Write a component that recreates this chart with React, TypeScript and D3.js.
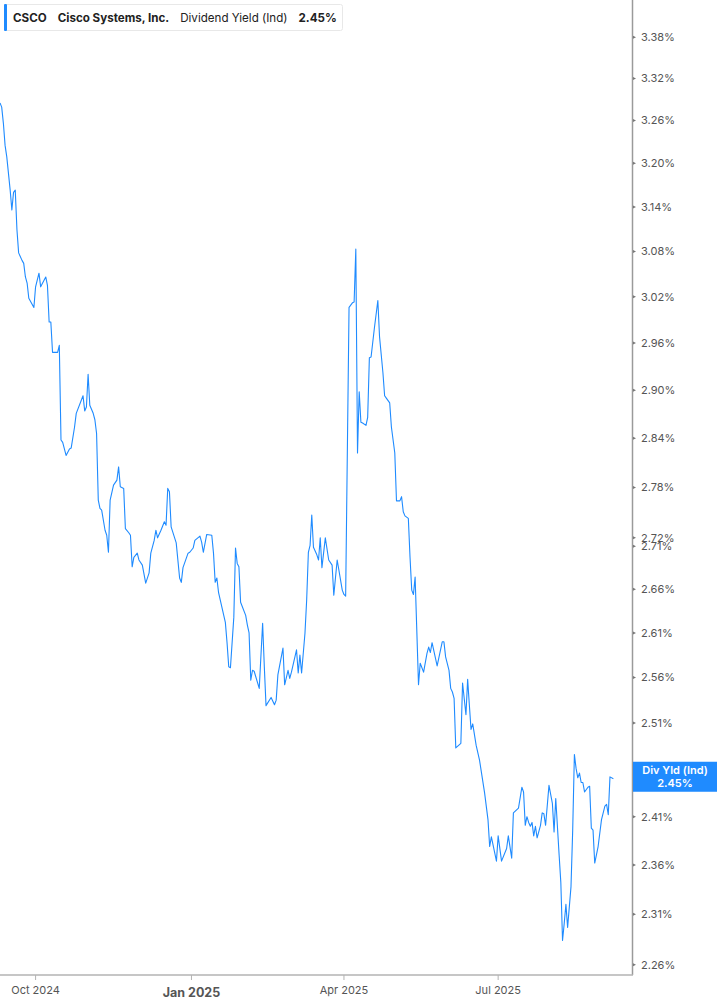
import React, { useEffect, useRef } from 'react';
import * as d3 from 'd3';

// Dividend yield (%)
const dates = [
  '2024-09-10', '2024-09-11', '2024-09-12', '2024-09-13', '2024-09-14', '2024-09-16', '2024-09-17', '2024-09-18',
  '2024-09-19', '2024-09-20', '2024-09-21', '2024-09-23', '2024-09-24', '2024-09-25', '2024-09-26', '2024-09-27',
  '2024-09-30', '2024-10-01', '2024-10-03', '2024-10-04', '2024-10-07', '2024-10-08', '2024-10-09', '2024-10-10',
  '2024-10-11', '2024-10-14', '2024-10-15', '2024-10-16', '2024-10-17', '2024-10-19', '2024-10-21', '2024-10-22',
  '2024-10-24', '2024-10-25', '2024-10-29', '2024-10-30', '2024-10-31', '2024-11-01', '2024-11-02', '2024-11-04',
  '2024-11-05', '2024-11-06', '2024-11-07', '2024-11-08', '2024-11-09', '2024-11-11', '2024-11-12', '2024-11-13',
  '2024-11-14', '2024-11-16', '2024-11-18', '2024-11-19', '2024-11-20', '2024-11-22', '2024-11-23', '2024-11-25',
  '2024-11-26', '2024-11-27', '2024-11-28', '2024-11-30', '2024-12-01', '2024-12-03', '2024-12-05', '2024-12-07',
  '2024-12-08', '2024-12-10', '2024-12-11', '2024-12-12', '2024-12-14', '2024-12-16', '2024-12-17', '2024-12-18',
  '2024-12-19', '2024-12-20', '2024-12-23', '2024-12-25', '2024-12-26', '2024-12-27', '2024-12-30', '2024-12-31',
  '2025-01-02', '2025-01-03', '2025-01-06', '2025-01-07', '2025-01-08', '2025-01-10', '2025-01-13', '2025-01-14',
  '2025-01-15', '2025-01-16', '2025-01-17', '2025-01-21', '2025-01-22', '2025-01-23', '2025-01-24', '2025-01-26',
  '2025-01-27', '2025-01-28', '2025-01-29', '2025-01-30', '2025-02-02', '2025-02-03', '2025-02-04', '2025-02-05',
  '2025-02-06', '2025-02-07', '2025-02-10', '2025-02-12', '2025-02-13', '2025-02-14', '2025-02-17', '2025-02-19',
  '2025-02-20', '2025-02-21', '2025-02-24', '2025-02-25', '2025-02-27', '2025-02-28', '2025-03-01', '2025-03-04',
  '2025-03-05', '2025-03-06', '2025-03-07', '2025-03-09', '2025-03-10', '2025-03-11', '2025-03-12', '2025-03-13',
  '2025-03-14', '2025-03-16', '2025-03-17', '2025-03-18', '2025-03-19', '2025-03-21', '2025-03-23', '2025-03-25',
  '2025-03-26', '2025-03-28', '2025-03-31', '2025-04-01', '2025-04-02', '2025-04-04', '2025-04-06', '2025-04-07',
  '2025-04-08', '2025-04-09', '2025-04-10', '2025-04-11', '2025-04-12', '2025-04-14', '2025-04-15', '2025-04-16',
  '2025-04-17', '2025-04-19', '2025-04-21', '2025-04-22', '2025-04-24', '2025-04-25', '2025-04-26', '2025-04-28',
  '2025-04-29', '2025-05-01', '2025-05-02', '2025-05-04', '2025-05-05', '2025-05-06', '2025-05-07', '2025-05-09',
  '2025-05-10', '2025-05-11', '2025-05-12', '2025-05-13', '2025-05-15', '2025-05-16', '2025-05-18', '2025-05-20',
  '2025-05-21', '2025-05-22', '2025-05-23', '2025-05-26', '2025-05-29', '2025-05-30', '2025-05-31', '2025-06-02',
  '2025-06-03', '2025-06-04', '2025-06-05', '2025-06-06', '2025-06-09', '2025-06-10', '2025-06-12', '2025-06-13',
  '2025-06-14', '2025-06-15', '2025-06-16', '2025-06-18', '2025-06-20', '2025-06-23', '2025-06-25', '2025-06-26',
  '2025-06-27', '2025-06-30', '2025-07-01', '2025-07-03', '2025-07-06', '2025-07-07', '2025-07-09', '2025-07-10',
  '2025-07-13', '2025-07-15', '2025-07-16', '2025-07-17', '2025-07-18', '2025-07-19', '2025-07-20', '2025-07-21',
  '2025-07-22', '2025-07-23', '2025-07-24', '2025-07-26', '2025-07-27', '2025-07-28', '2025-07-29', '2025-07-31',
  '2025-08-02', '2025-08-03', '2025-08-04', '2025-08-06', '2025-08-07', '2025-08-08', '2025-08-09', '2025-08-10',
  '2025-08-11', '2025-08-13', '2025-08-14', '2025-08-15', '2025-08-16', '2025-08-17', '2025-08-18', '2025-08-19',
  '2025-08-20', '2025-08-21', '2025-08-23', '2025-08-24', '2025-08-25', '2025-08-26', '2025-08-27', '2025-08-29',
  '2025-08-31', '2025-09-02', '2025-09-03', '2025-09-04', '2025-09-05', '2025-09-07',
];

const yields = [
  3.285, 3.279, 3.256, 3.225, 3.209, 3.163, 3.136, 3.160,
  3.163, 3.109, 3.078, 3.068, 3.064, 3.046, 3.038, 3.018,
  3.006, 3.033, 3.051, 3.033, 3.046, 3.035, 2.987, 2.987,
  2.948, 2.948, 2.957, 2.838, 2.835, 2.819, 2.827, 2.828,
  2.854, 2.871, 2.893, 2.874, 2.879, 2.920, 2.881, 2.871,
  2.863, 2.846, 2.765, 2.755, 2.753, 2.729, 2.723, 2.703,
  2.765, 2.783, 2.789, 2.805, 2.781, 2.779, 2.731, 2.726,
  2.723, 2.686, 2.697, 2.702, 2.694, 2.688, 2.667, 2.679,
  2.702, 2.717, 2.729, 2.720, 2.729, 2.739, 2.735, 2.779,
  2.775, 2.733, 2.714, 2.673, 2.668, 2.685, 2.702, 2.703,
  2.708, 2.717, 2.722, 2.715, 2.703, 2.724, 2.723, 2.702,
  2.668, 2.673, 2.656, 2.622, 2.599, 2.572, 2.571, 2.628,
  2.708, 2.690, 2.686, 2.645, 2.630, 2.619, 2.610, 2.557,
  2.568, 2.567, 2.548, 2.621, 2.572, 2.529, 2.538, 2.530,
  2.535, 2.563, 2.593, 2.552, 2.568, 2.559, 2.566, 2.591,
  2.565, 2.585, 2.565, 2.610, 2.648, 2.703, 2.711, 2.747,
  2.709, 2.700, 2.694, 2.720, 2.685, 2.720, 2.694, 2.688,
  2.653, 2.694, 2.659, 2.654, 2.652, 3.006, 3.012, 3.013,
  3.083, 2.822, 2.898, 2.860, 2.859, 2.856, 2.866, 2.941,
  2.942, 2.980, 3.015, 2.968, 2.922, 2.893, 2.890, 2.884,
  2.854, 2.822, 2.764, 2.764, 2.769, 2.751, 2.746, 2.743,
  2.697, 2.659, 2.654, 2.674, 2.552, 2.576, 2.566, 2.587,
  2.594, 2.588, 2.599, 2.573, 2.600, 2.600, 2.583, 2.568,
  2.548, 2.544, 2.537, 2.483, 2.488, 2.554, 2.519, 2.558,
  2.530, 2.503, 2.509, 2.486, 2.470, 2.435, 2.407, 2.379,
  2.389, 2.364, 2.390, 2.364, 2.377, 2.390, 2.367, 2.414,
  2.419, 2.441, 2.436, 2.401, 2.410, 2.404, 2.400, 2.404,
  2.390, 2.400, 2.388, 2.401, 2.414, 2.413, 2.401, 2.443,
  2.424, 2.394, 2.429, 2.370, 2.342, 2.284, 2.301, 2.320,
  2.297, 2.338, 2.396, 2.476, 2.461, 2.451, 2.456, 2.446,
  2.446, 2.436, 2.441, 2.442, 2.398, 2.396, 2.362, 2.379,
  2.407, 2.421, 2.423, 2.412, 2.452, 2.450,
];

const yTicks = [
  3.38, 3.32, 3.26, 3.2, 3.14, 3.08, 3.02, 2.96, 2.9, 2.84, 2.78,
  2.72, 2.71, 2.66, 2.61, 2.56, 2.51, 2.46, 2.41, 2.36, 2.31, 2.26,
];
// this tick sits under the value label, so only its mark shows
const hiddenTick = 2.46;

const xTicks = ['2024-10-01', '2025-01-01', '2025-04-01', '2025-07-01'];
const xTickLabels = ['Oct 2024', 'Jan 2025', 'Apr 2025', 'Jul 2025'];

const legendItems = ['CSCO', 'Cisco Systems, Inc.', 'Dividend Yield (Ind)', '2.45%'];
const legendBold = [true, true, false, true];

const lastValue = 2.45;
const BLUE = '#1f8bff';
const FONT = 'Inter, "Noto Sans", sans-serif';

const App: React.FC = () => {
  const ref = useRef<SVGSVGElement>(null);

  useEffect(() => {
    if (!ref.current) return;
    const svg = d3.select(ref.current);
    svg.selectAll('*').remove();

    const W = 717;
    const plotRight = 632;
    const plotBottom = 975;

    const x = d3.scaleUtc()
      .domain([new Date('2024-09-10'), new Date('2025-09-18')])
      .range([0, plotRight]);
    const y = d3.scaleLog()
      .domain([2.25, 3.435])
      .range([plotBottom, 0]);

    svg.append('rect').attr('width', W).attr('height', 1005).attr('fill', '#fff');

    svg.append('clipPath').attr('id', 'plot-clip')
      .append('rect').attr('x', 0).attr('y', 0).attr('width', plotRight).attr('height', plotBottom);

    // ligne
    const pts = dates.map((d, i) => ({ date: new Date(d), v: yields[i] }));
    const line = d3.line<{ date: Date; v: number }>()
      .x(d => x(d.date))
      .y(d => y(d.v));
    svg.append('path')
      .datum(pts)
      .attr('clip-path', 'url(#plot-clip)')
      .attr('fill', 'none')
      .attr('stroke', BLUE)
      .attr('stroke-width', 1.1)
      .attr('stroke-linejoin', 'round')
      .attr('d', line);

    // axe droit
    svg.append('line')
      .attr('x1', plotRight + 0.5).attr('x2', plotRight + 0.5)
      .attr('y1', 0).attr('y2', plotBottom)
      .attr('stroke', '#9a9a9a').attr('stroke-width', 1.5);

    const yg = svg.append('g');
    yTicks.forEach(t => {
      const ty = y(t);
      yg.append('path')
        .attr('d', `M${plotRight + 1},${ty - 1.5}L${plotRight + 4},${ty}L${plotRight + 1},${ty + 1.5}Z`)
        .attr('fill', '#777');
      if (t === hiddenTick) return;
      yg.append('text')
        .attr('x', 641)
        .attr('y', ty)
        .attr('dy', '0.35em')
        .attr('fill', '#555')
        .style('font-family', FONT)
        .style('font-size', '11px')
        .text(`${t.toFixed(2)}%`);
    });

    // axe bas
    svg.append('line')
      .attr('x1', 0).attr('x2', plotRight + 1)
      .attr('y1', plotBottom).attr('y2', plotBottom)
      .attr('stroke', '#b3b3b3').attr('stroke-width', 1.6);

    xTicks.forEach((t, i) => {
      const tx = x(new Date(t));
      svg.append('line')
        .attr('x1', tx).attr('x2', tx)
        .attr('y1', plotBottom).attr('y2', plotBottom + 5)
        .attr('stroke', '#b3b3b3').attr('stroke-width', 1);
      const isYear = t.endsWith('01-01');
      svg.append('text')
        .attr('x', tx)
        .attr('y', isYear ? 997 : 994)
        .attr('text-anchor', 'middle')
        .attr('fill', '#555')
        .style('font-family', FONT)
        .style('font-size', isYear ? '12.5px' : '11px')
        .style('font-weight', isYear ? 700 : 400)
        .text(xTickLabels[i]);
    });

    // étiquette de la dernière valeur
    const ly = y(lastValue);
    const lab = svg.append('g');
    lab.append('rect')
      .attr('x', plotRight + 1).attr('y', ly - 17)
      .attr('width', W - plotRight - 1).attr('height', 30)
      .attr('fill', BLUE);
    lab.append('text')
      .attr('x', (plotRight + W) / 2 + 0.5).attr('y', ly - 5)
      .attr('text-anchor', 'middle').attr('fill', '#fff')
      .style('font-family', FONT).style('font-size', '11px').style('font-weight', 600)
      .text('Div Yld (Ind)');
    lab.append('text')
      .attr('x', (plotRight + W) / 2 + 0.5).attr('y', ly + 8)
      .attr('text-anchor', 'middle').attr('fill', '#fff')
      .style('font-family', FONT).style('font-size', '11px').style('font-weight', 600)
      .text(`${lastValue.toFixed(2)}%`);

    // légende
    const lg = svg.append('g');
    lg.append('rect')
      .attr('x', 4.5).attr('y', 4.5).attr('width', 338).attr('height', 26)
      .attr('rx', 2).attr('fill', '#fff').attr('stroke', '#e8e8e8');
    lg.append('rect')
      .attr('x', 4).attr('y', 4).attr('width', 3).attr('height', 27)
      .attr('rx', 1).attr('fill', BLUE);
    let cursor = 13;
    legendItems.forEach((s, i) => {
      const txt = lg.append('text')
        .attr('x', cursor).attr('y', 21.5)
        .attr('fill', '#222')
        .style('font-family', FONT)
        .style('font-size', '11.6px')
        .style('font-weight', legendBold[i] ? 700 : 400)
        .text(s);
      const w = (txt.node() as SVGTextElement).getComputedTextLength();
      cursor += w + 11;
    });
  }, []);

  return (
    <div style={{ position: 'absolute', left: 0, top: 0 }}>
      <svg ref={ref} width={717} height={1005} style={{ display: 'block' }} />
    </div>
  );
};

export default App;
